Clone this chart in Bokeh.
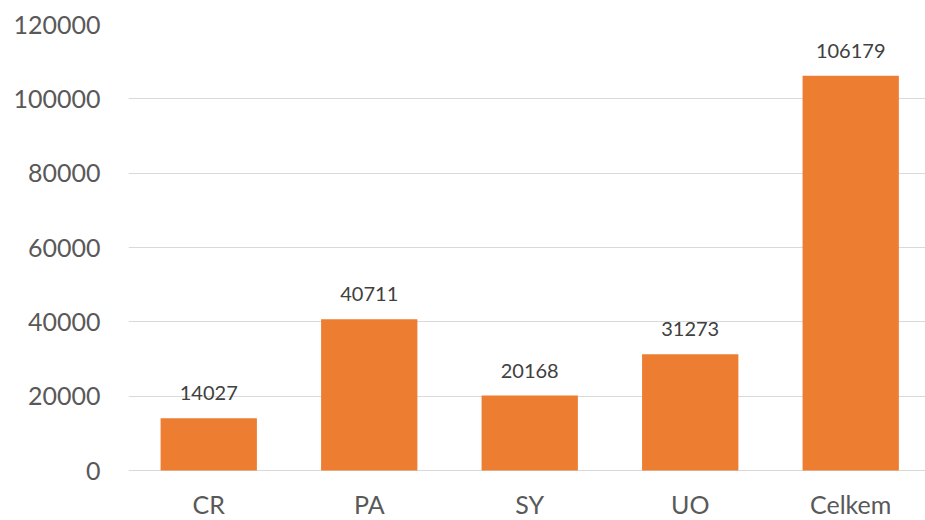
from bokeh.plotting import figure
from bokeh.models import ColumnDataSource, Range1d, FixedTicker, LabelSet
from bokeh.core.properties import value
from bokeh.embed import file_html
from bokeh.resources import INLINE

categories = ["CR", "PA", "SY", "UO", "Celkem"]
values = [14027, 40711, 20168, 31273, 106179]
y_ticks = [0, 20000, 40000, 60000, 80000, 100000, 120000]

xs = [i + 0.5 for i in range(len(categories))]
src = ColumnDataSource(dict(x=xs, top=values, base=[0] * len(values),
                            label=[str(v) for v in values], cat=categories))

FONT = "Lato"
# frame spans 24..520 px; 0 sits at 470 px, leaving room below for category labels
y_max = 120000
y_min = -y_max * 50 / 446
p = figure(width=925, height=520, output_backend="svg", toolbar_location=None,
           x_range=Range1d(0, 4.966), y_range=Range1d(y_min, y_max),
           min_border_left=128, min_border_right=0, min_border_top=24, min_border_bottom=0)
p.outline_line_color = None
p.background_fill_color = "white"
p.border_fill_color = "white"

p.vbar(x="x", top="top", width=0.6, bottom=0, source=src, fill_color="#ED7D31", line_color=None)

labels = LabelSet(x="x", y="top", text="label", source=src, text_align="center",
                  text_baseline="bottom", y_offset=18, text_font=value(FONT),
                  text_font_size="20px", text_color="#404040")
p.add_layout(labels)

cat_labels = LabelSet(x="x", y="base", text="cat", source=src, text_align="center",
                      text_baseline="middle", y_offset=-33, text_font=value(FONT),
                      text_font_size="25px", text_color="#595959")
p.add_layout(cat_labels)

p.xaxis.visible = False

p.yaxis.ticker = FixedTicker(ticks=y_ticks)
p.yaxis.major_tick_line_color = None
p.yaxis.major_tick_out = 0
p.yaxis.major_tick_in = 0
p.yaxis.minor_tick_line_color = None
p.yaxis.axis_line_color = None
p.yaxis.major_label_text_font = FONT
p.yaxis.major_label_text_font_size = "25px"
p.yaxis.major_label_text_color = "#595959"
p.yaxis.major_label_standoff = 28
p.yaxis.formatter.use_scientific = False

p.xgrid.grid_line_color = None
p.ygrid.ticker = FixedTicker(ticks=y_ticks)
p.ygrid.grid_line_color = "#D9D9D9"
p.ygrid.grid_line_width = 1

open("out.html", "w").write(file_html(p, INLINE))
